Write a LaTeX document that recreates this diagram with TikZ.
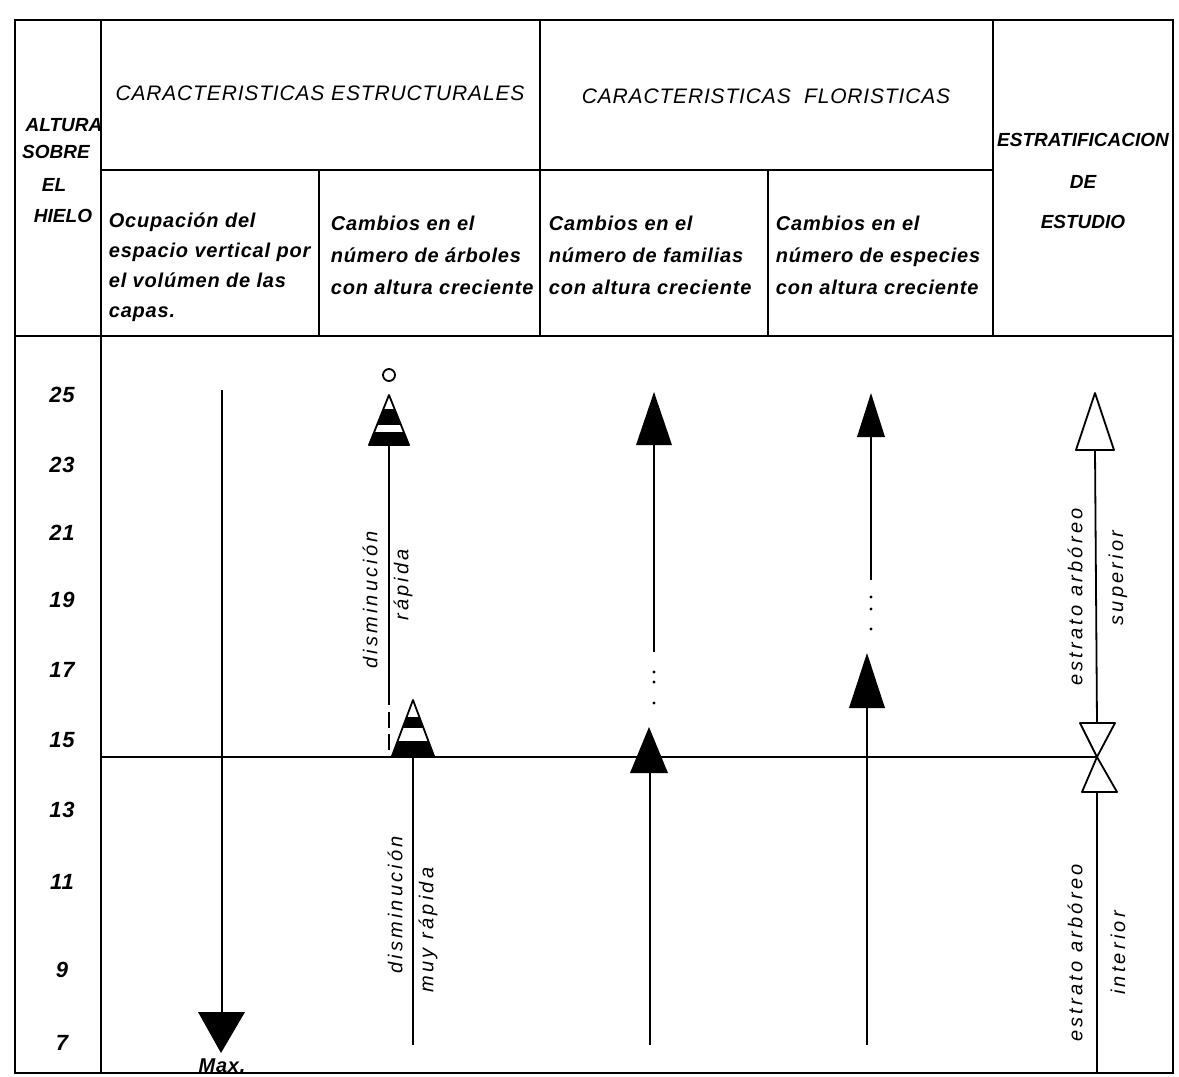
\documentclass[tikz,border=0pt]{standalone}
\usepackage{fontspec}
\setmainfont{Liberation Sans}
\newfontfamily\titulo[LetterSpace=4]{Liberation Sans}
\newfontfamily\rotulo[LetterSpace=16]{Liberation Sans}

\begin{document}
\begin{tikzpicture}[x=1pt,y=-1pt,line width=1.8pt,
	cabeza/.style={inner sep=0pt,font=\fontsize{21}{25}\selectfont\titulo\itshape},
	celda/.style={inner sep=0pt,anchor=north west,align=left,
		font=\fontsize{20}{32}\selectfont\titulo\bfseries\itshape},
	cifra/.style={inner sep=0pt,font=\fontsize{22}{26}\selectfont\titulo\bfseries\itshape},
	lado/.style={inner sep=0pt,font=\fontsize{19}{22}\selectfont\bfseries\itshape},
	giro/.style={inner sep=0pt,rotate=90,font=\fontsize{20}{24}\selectfont\rotulo\itshape}]

\useasboundingbox (0,0) rectangle (1179,1077);

%
% Rahmen der Tabelle
%
\draw (15,20) rectangle (1173,1073);
\draw (101,20) -- (101,1073);
\draw (540,20) -- (540,336);
\draw (993,20) -- (993,336);
\draw (101,170) -- (993,170);
\draw (319,170) -- (319,336);
\draw (768,170) -- (768,336);
\draw (15,336) -- (1173,336);
\draw (101,757) -- (1097,757);

%
% Kopfzeilen
%
\node[cabeza] (estruc) at (320,93) {CARACTERISTICAS ESTRUCTURALES};
\node[cabeza] (flor) at (766,96) {CARACTERISTICAS\ \ FLORISTICAS};

\foreach \x/\y/\t/\n in {64/125/ALTURA/a1,56/152/SOBRE/a2,54/185/EL/a3,63/216/HIELO/a4}{
	\node[lado] (\n) at (\x,\y) {\t};
}
\foreach \y/\t/\n in {140/ESTRATIFICACION/e1,182/DE/e2,222/ESTUDIO/e3}{
	\node[lado] (\n) at (1083,\y) {\t};
}

\node[celda,font=\fontsize{20}{30}\selectfont\titulo\bfseries\itshape] (ocup) at (108,212)
	{Ocupación del\\espacio vertical por\\el volúmen de las\\capas.};
\node[celda] (arb) at (330,215) {Cambios en el\\número de árboles\\con altura creciente};
\node[celda] (fam) at (548,215) {Cambios en el\\número de familias\\con altura creciente};
\node[celda] (esp) at (775,215) {Cambios en el\\número de especies\\con altura creciente};

%
% Alturas
%
\foreach \y/\h in {395/25,465/23,533/21,600/19,670/17,740/15,810/13,882/11,970/9,1043/7}{
	\node[cifra] (h\h) at (62,\y) {\h};
}

%
% Ocupacion: Maximum unten
%
\draw (222,390) -- (222,1015);
\fill (198,1012) -- (245,1012) -- (221,1053) -- cycle;
\node[cifra,font=\fontsize{20}{24}\selectfont\titulo\bfseries\itshape] (max) at (222,1066) {Max.};

%
% Arboles: gestreifte Dreiecke
%
\draw (389,375) circle[radius=6];
\draw (389,445) -- (389,705);
\draw[dash pattern=on 16pt off 6pt] (389,712) -- (389,757);
\draw (413,757) -- (413,1045);
\foreach \cx/\ap/\ba/\hw/\wa/\wb/\wc in {389/395/445/20/0.28/0.6/0.74,413/700/756/21/0.31/0.5/0.73}{
	\begin{scope}
		\clip (\cx-\hw,\ba) -- (\cx+\hw,\ba) -- (\cx,\ap) -- cycle;
		\fill (\cx-30,\ap) rectangle (\cx+30,\ba);
		\fill[white] (\cx-30,\ap) rectangle (\cx+30,{\ap+\wa*(\ba-\ap)});
		\fill[white] (\cx-30,{\ap+\wb*(\ba-\ap)}) rectangle (\cx+30,{\ap+\wc*(\ba-\ap)});
	\end{scope}
	\draw[line join=round] (\cx-\hw,\ba) -- (\cx+\hw,\ba) -- (\cx,\ap) -- cycle;
}
\node[giro] (dis1) at (370,600) {disminución};
\node[giro] (rap1) at (403,585) {rápida};
\node[giro] (dis2) at (395,905) {disminución};
\node[giro] (rap2) at (428,930) {muy rápida};

%
% Familias und Especies
%
\draw (654,445) -- (654,652);
\draw (650,773) -- (650,1045);
\draw (871,437) -- (871,580);
\draw (867,708) -- (867,1045);
\foreach \cx/\ap/\ba/\hw in {654/392/445/18,649/727/773/19,871/393/437/14,867/653/708/18}{
	\fill (\cx-\hw,\ba) -- (\cx+\hw,\ba) -- (\cx,\ap) -- cycle;
}
\foreach \x/\y in {654/672,654/682,654/703,871/597,871/609,871/629}{
	\fill (\x,\y) circle[radius=1.6];
}

%
% Estratificacion
%
\draw (1095,450) -- (1097,723);
\draw (1097,792) -- (1097,1073);
\draw[line join=round] (1076,450) -- (1114,450) -- (1095,393) -- cycle;
\draw[line join=round] (1080,723) -- (1115,723) -- (1097,757) -- cycle;
\draw[line join=round] (1097,757) -- (1082,792) -- (1117,792) -- cycle;
\node[giro] (est1) at (1075,597) {estrato arbóreo};
\node[giro] (sup) at (1118,578) {superior};
\node[giro] (est2) at (1075,953) {estrato arbóreo};
\node[giro] (inf) at (1118,953) {interior};

\end{tikzpicture}
\end{document}
